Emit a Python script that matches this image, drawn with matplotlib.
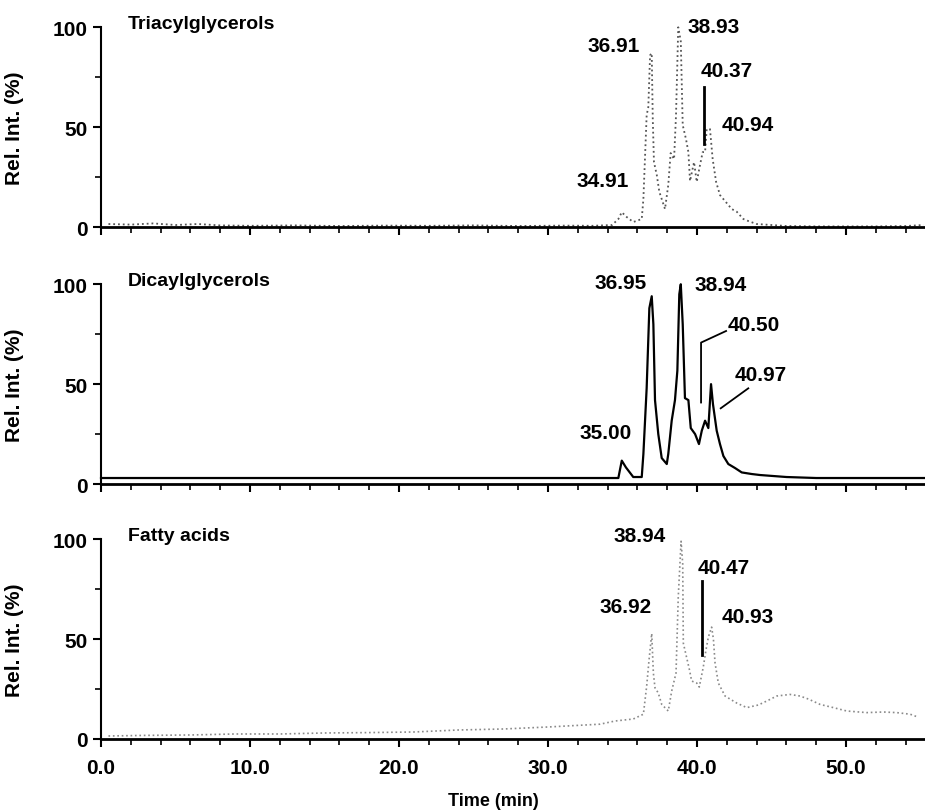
import numpy as np
import matplotlib.pyplot as plt
from matplotlib.ticker import MultipleLocator, FormatStrFormatter

plt.rcParams['font.family'] = ['Liberation Sans', 'DejaVu Sans']
plt.rcParams['font.size'] = 15

# Triacylglycerols trace (time in min, relative intensity %)
tri_t = [0.5, 2.0, 3.5, 5.0, 6.5, 8.0, 10.0, 13.0, 16.0, 19.0, 22.0, 25.0, 28.0, 31.0, 33.0, 34.3,
         34.72, 34.95, 35.28, 35.72, 36.29, 36.40, 36.62, 36.73, 36.85, 36.96, 37.03, 37.11, 37.30,
         37.47, 37.63, 37.85, 38.07, 38.23, 38.46, 38.59, 38.74, 38.91, 39.04, 39.26, 39.42, 39.53,
         39.80, 39.98, 40.20, 40.38, 40.54, 40.65, 40.87, 41.05, 41.28, 41.54, 41.88, 42.33, 42.66,
         43.11, 43.44, 44.0, 46.0, 48.0, 50.0, 52.0, 54.0, 55.2]
tri_i = [1.5, 1.2, 1.8, 1.0, 1.5, 0.8, 0.6, 0.8, 0.5, 0.7, 0.6, 0.8, 0.5, 0.7, 0.6, 1.0,
         4.0, 7.4, 5.0, 2.5, 4.0, 14, 56, 60, 86, 87, 54, 32.5, 26,
         17.6, 14, 9, 21, 37, 34, 56, 100, 93, 51, 44, 37.5, 23,
         32.5, 22.6, 31, 37.5, 37.5, 49, 49, 34, 22.6, 16, 13, 9, 7.7,
         4, 3, 1.5, 0.5, 0.3, 0.3, 0.3, 0.5, 1.0]

# Diacylglycerols trace
dag_t = [0.0, 5.0, 10.0, 15.0, 20.0, 25.0, 30.0, 34.6, 34.72, 34.95, 35.23, 35.72, 36.29, 36.40,
         36.62, 36.80, 36.96, 37.07, 37.18, 37.40, 37.63, 37.97, 38.07, 38.30, 38.52, 38.68, 38.81,
         38.91, 39.04, 39.19, 39.42, 39.58, 39.87, 40.13, 40.32, 40.54, 40.76, 40.94, 41.07, 41.32,
         41.54, 41.77, 42.10, 42.55, 43.0, 43.67, 44.23, 46.0, 48.0, 50.0, 55.3]
dag_i = [3, 3, 3, 3, 3, 3, 3, 3, 3, 11.7, 8.3, 3.5, 3.5, 15,
         48, 88, 94, 80, 42, 25, 13, 10, 15, 31.7, 42, 56.7, 95,
         100, 80, 43, 42, 28, 25, 20, 26.7, 31.7, 28, 50, 40, 26.7,
         20, 14, 10, 8, 5.8, 5, 4.5, 3.5, 3, 3, 3]

# Fatty acids trace
fa_t = [0.5, 3.0, 6.0, 9.0, 12.0, 15.0, 18.0, 21.0, 24.0, 27.0, 30.0, 33.49, 34.5, 35.72, 36.40,
        36.62, 36.78, 36.96, 37.07, 37.18, 37.40, 37.63, 38.07, 38.30, 38.59, 38.74, 38.93, 39.04,
        39.08, 39.49, 39.64, 39.98, 40.15, 40.42, 40.60, 40.76, 40.98, 41.10, 41.21, 41.43, 41.88,
        42.66, 43.34, 44.11, 44.68, 45.35, 46.24, 46.91, 47.47, 48.26, 49.15, 50.05, 51.39, 52.5,
        53.4, 54.3, 54.85]
fa_i = [1.5, 1.8, 2.0, 2.5, 2.5, 3.0, 3.2, 3.5, 4.5, 5.0, 6.0, 7.4, 9.0, 10.0, 12.4,
        26.4, 39.6, 52.8, 33, 25.6, 23, 17.3, 14, 24, 33, 71, 99, 87.6,
        48, 34.7, 29, 28, 26, 36, 44.5, 51, 56, 50, 38, 28, 21.5,
        18, 15.7, 17, 19, 21.5, 22.3, 21.5, 20, 17.3, 15.7, 14, 13.2, 13.5,
        13.2, 12.4, 10.9]

titles = ['Triacylglycerols', 'Dicaylglycerols', 'Fatty acids']

tri_labels = ['36.91', '38.93', '40.37', '40.94', '34.91']
tri_lx = [34.43, 41.14, 42.01, 43.42, 33.69]
tri_ly = [91, 100.5, 78.4, 51.3, 23.1]

dag_labels = ['36.95', '38.94', '40.50', '40.97', '35.00']
dag_lx = [34.9, 41.61, 43.83, 44.3, 33.89]
dag_ly = [101, 100, 80, 55, 26]

fa_labels = ['38.94', '40.47', '36.92', '40.93']
fa_lx = [36.17, 41.81, 35.23, 43.42]
fa_ly = [102, 85.6, 66.3, 61.4]

fig = plt.figure(figsize=(9.25, 8.12), dpi=100)
bottoms = [0.7192, 0.4027, 0.0887]
axes = [fig.add_axes([0.1092, b, 0.8908, 0.2460]) for b in bottoms]

traces = [(tri_t, tri_i, dict(color='#555555', ls=':', lw=1.3)),
          (dag_t, dag_i, dict(color='black', ls='-', lw=1.6)),
          (fa_t, fa_i, dict(color='#8a8a8a', ls=':', lw=1.2))]
labels = [(tri_labels, tri_lx, tri_ly), (dag_labels, dag_lx, dag_ly), (fa_labels, fa_lx, fa_ly)]

for k, ax in enumerate(axes):
    t, y, st = traces[k]
    ax.plot(t, y, clip_on=False, **st)
    ax.set_xlim(0, 55.3)
    ax.set_ylim(0, 100)
    for s in ['top', 'right']:
        ax.spines[s].set_visible(False)
    ax.spines['bottom'].set_linewidth(2)
    ax.spines['left'].set_linewidth(1.5)
    ax.xaxis.set_major_locator(MultipleLocator(10))
    ax.xaxis.set_minor_locator(MultipleLocator(2))
    ax.xaxis.set_major_formatter(FormatStrFormatter('%.1f'))
    ax.yaxis.set_major_locator(MultipleLocator(50))
    ax.yaxis.set_minor_locator(MultipleLocator(25))
    ax.tick_params(axis='both', which='major', length=6, width=1.5, direction='out', labelsize=15)
    ax.tick_params(axis='both', which='minor', length=4, width=1.2, direction='out')
    ax.tick_params(axis='x', pad=8)
    for lbl in ax.get_xticklabels() + ax.get_yticklabels():
        lbl.set_fontweight('bold')
    if k < 2:
        ax.tick_params(axis='x', labelbottom=False)
    ax.set_ylabel('Rel. Int. (%)', fontsize=15, fontweight='bold')
    ax.yaxis.set_label_coords(-0.093, 0.5)
    ax.text(1.8, 102, titles[k], fontsize=14, fontweight='bold', ha='left', va='center')
    for lab, lx, ly in zip(*labels[k]):
        ax.text(lx, ly, lab, fontsize=15, fontweight='bold', ha='center', va='center')

# marker lines
axes[0].plot([40.47, 40.47], [41.7, 70], color='black', lw=2, clip_on=False)
axes[1].plot([41.95, 40.27, 40.27], [76.6, 70.8, 40.8], color='black', lw=1.3, clip_on=False)
axes[1].plot([41.59, 43.44], [37.9, 47.9], color='black', lw=1.3, clip_on=False)
axes[2].plot([40.31, 40.31], [42, 79], color='black', lw=2, clip_on=False)

axes[2].set_xlabel('Time (min)', fontsize=13, fontweight='bold')
axes[2].xaxis.set_label_coords(0.476, -0.265)

fig.savefig('out.png', dpi=100)
